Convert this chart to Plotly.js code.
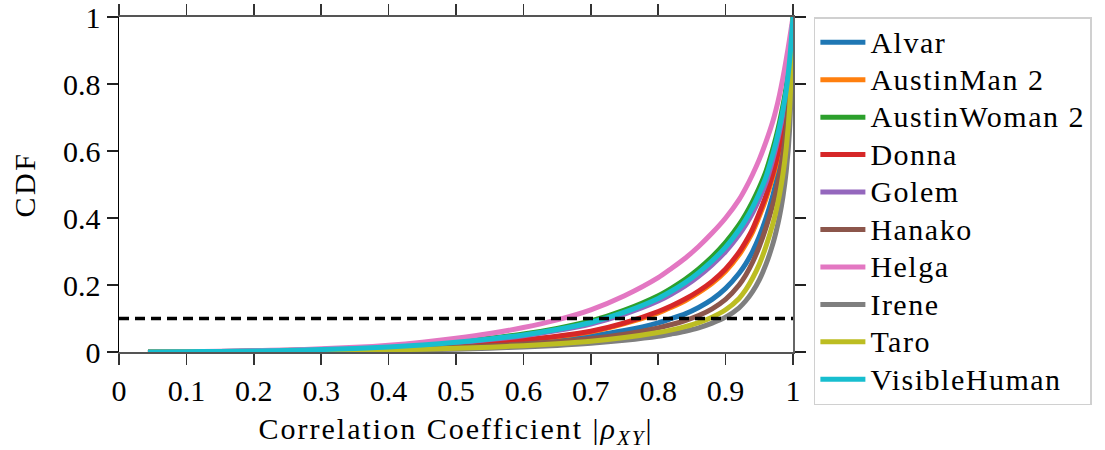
<!DOCTYPE html>
<html>
<head>
<meta charset="utf-8">
<script src="https://cdn.plot.ly/plotly-3.0.1.min.js"></script>
<style>
  html, body { margin: 0; padding: 0; background: #fff; }
  #chart { width: 1105px; height: 450px; }
</style>
</head>
<body>
<div id="chart"></div>
<script>
// |rho_XY| sample points shared by all phantoms
const rho = [0.043, 0.1, 0.15, 0.2, 0.25, 0.3, 0.35, 0.4, 0.45, 0.5, 0.55, 0.6, 0.65, 0.7, 0.75,
             0.8, 0.82, 0.84, 0.86, 0.88, 0.9, 0.92, 0.93, 0.94, 0.95, 0.96, 0.97, 0.975, 0.98, 0.985, 0.99, 0.995, 1];

// Empirical CDF of the correlation coefficient, per phantom
const alvar        = [0, 0.0004, 0.0008, 0.0016, 0.0026, 0.004, 0.006, 0.0088, 0.0124, 0.017, 0.0225, 0.029, 0.037, 0.048, 0.064,
                      0.087, 0.1, 0.114, 0.133, 0.157, 0.19, 0.235, 0.264, 0.3, 0.345, 0.4, 0.467, 0.507, 0.554, 0.612, 0.688, 0.8, 1];
const austinMan2   = [0, 0.00048, 0.00097, 0.0019, 0.0032, 0.0049, 0.0073, 0.0107, 0.015, 0.0204, 0.0272, 0.035, 0.0456, 0.060, 0.0845,
                      0.117, 0.134, 0.153, 0.177, 0.205, 0.241, 0.29, 0.322, 0.358, 0.405, 0.458, 0.522, 0.56, 0.605, 0.658, 0.727, 0.834, 1];
const austinWoman2 = [0, 0.00085, 0.0017, 0.0032, 0.005, 0.0076, 0.011, 0.0158, 0.022, 0.0305, 0.041, 0.0535, 0.0705, 0.0925, 0.125,
                      0.168, 0.191, 0.217, 0.248, 0.284, 0.327, 0.38, 0.412, 0.449, 0.491, 0.54, 0.606, 0.643, 0.686, 0.735, 0.793, 0.877, 1];
const donna        = [0, 0.0005, 0.001, 0.002, 0.0033, 0.005, 0.0075, 0.011, 0.0155, 0.021, 0.028, 0.036, 0.047, 0.062, 0.087,
                      0.121, 0.138, 0.158, 0.182, 0.211, 0.248, 0.298, 0.33, 0.367, 0.415, 0.468, 0.532, 0.57, 0.614, 0.667, 0.735, 0.84, 1];
const golem        = [0, 0.00076, 0.0015, 0.0029, 0.0046, 0.0068, 0.01, 0.0143, 0.020, 0.0275, 0.037, 0.0485, 0.0637, 0.0835, 0.113,
                      0.152, 0.173, 0.197, 0.226, 0.26, 0.3, 0.35, 0.38, 0.415, 0.457, 0.506, 0.574, 0.613, 0.658, 0.709, 0.771, 0.863, 1];
const hanako       = [0, 0.0003, 0.0007, 0.0013, 0.0021, 0.0033, 0.005, 0.0073, 0.0103, 0.014, 0.0185, 0.024, 0.031, 0.040, 0.053,
                      0.072, 0.082, 0.094, 0.109, 0.129, 0.157, 0.2, 0.23, 0.268, 0.315, 0.372, 0.44, 0.482, 0.53, 0.59, 0.668, 0.783, 1];
const helga        = [0, 0.001, 0.0021, 0.0038, 0.0062, 0.0095, 0.014, 0.0205, 0.0295, 0.041, 0.055, 0.073, 0.096, 0.126, 0.168,
                      0.222, 0.25, 0.28, 0.315, 0.355, 0.40, 0.455, 0.49, 0.53, 0.575, 0.628, 0.688, 0.725, 0.768, 0.818, 0.874, 0.935, 1];
const irene        = [0, 0.0002, 0.0004, 0.0008, 0.0013, 0.002, 0.003, 0.0045, 0.0063, 0.0085, 0.0113, 0.015, 0.0197, 0.026, 0.035,
                      0.047, 0.054, 0.062, 0.072, 0.086, 0.104, 0.132, 0.153, 0.18, 0.215, 0.262, 0.322, 0.36, 0.405, 0.462, 0.54, 0.665, 1];
const taro         = [0, 0.0003, 0.0006, 0.001, 0.0017, 0.0027, 0.0041, 0.006, 0.0083, 0.011, 0.0145, 0.019, 0.0248, 0.032, 0.043,
                      0.058, 0.066, 0.076, 0.088, 0.104, 0.126, 0.16, 0.186, 0.22, 0.262, 0.316, 0.382, 0.422, 0.47, 0.53, 0.61, 0.73, 1];
const visibleHuman = [0, 0.0008, 0.0016, 0.003, 0.0048, 0.0072, 0.0105, 0.015, 0.021, 0.029, 0.039, 0.051, 0.067, 0.088, 0.119,
                      0.16, 0.182, 0.207, 0.237, 0.272, 0.313, 0.365, 0.396, 0.432, 0.474, 0.523, 0.59, 0.628, 0.672, 0.722, 0.782, 0.87, 1];

const names  = ["Alvar", "AustinMan 2", "AustinWoman 2", "Donna", "Golem", "Hanako", "Helga", "Irene", "Taro", "VisibleHuman"];
const series = [alvar, austinMan2, austinWoman2, donna, golem, hanako, helga, irene, taro, visibleHuman];
const colors = ["#1f77b4", "#ff7f0e", "#2ca02c", "#d62728", "#9467bd", "#8c564b", "#e377c2", "#7f7f7f", "#bcbd22", "#17becf"];

// 10% reference level
const refX = [0, 1];
const refY = [0.1, 0.1];

const FONT = "'Liberation Serif', 'Times New Roman', serif";
const wide = (s, px, ls) => `<span style="font-size:${px}px;letter-spacing:${ls}px">${s}</span>`;

const traces = series.map((ys, i) => ({
  x: rho, y: ys, name: wide(names[i], 30, 1.5), type: "scatter", mode: "lines",
  line: { color: colors[i], width: 5, shape: "spline", smoothing: 0.8 }
}));
traces.push({
  x: refX, y: refY, type: "scatter", mode: "lines", showlegend: false,
  line: { color: "#000", width: 3.5, dash: "10px,6px" }
});
// right-hand frame line with mirrored ticks
traces.push({ x: [null], y: [null], yaxis: "y2", showlegend: false, hoverinfo: "skip" });

const tickFont = { family: FONT, size: 30, color: "#000" };

const layout = {
  width: 1105, height: 450,
  margin: { l: 119, r: 312, t: 17, b: 98 },
  paper_bgcolor: "#fff", plot_bgcolor: "#fff",
  font: { family: FONT, color: "#000" },
  showlegend: true,
  xaxis: {
    range: [0, 1], dtick: 0.1, tick0: 0,
    showgrid: false, zeroline: false,
    showline: true, linecolor: "#555", linewidth: 2, mirror: "allticks",
    ticks: "outside", ticklen: 11, tickwidth: 1.5, tickcolor: "#333",
    tickfont: tickFont,
    title: { text: wide("Correlation Coefficient |<i>ρ</i><sub><i>XY</i></sub>|", 30, 2), font: { family: FONT, size: 30, color: "#000" }, standoff: 12 }
  },
  yaxis: {
    range: [0, 1], dtick: 0.2, tick0: 0,
    showgrid: false, zeroline: false,
    showline: true, linecolor: "#000", linewidth: 1.5,
    ticks: "outside", ticklen: 11, tickwidth: 1.5, tickcolor: "#222",
    tickfont: tickFont,
    title: { text: wide("CDF", 30, 2.5), font: { family: FONT, size: 30, color: "#000" }, standoff: 18 }
  },
  yaxis2: {
    overlaying: "y", side: "right", range: [0, 1], dtick: 0.2, tick0: 0,
    showgrid: false, zeroline: false, showticklabels: false,
    showline: true, linecolor: "#666", linewidth: 2,
    ticks: "outside", ticklen: 11, tickwidth: 1.5, tickcolor: "#222"
  },
  legend: {
    x: 1.031, xanchor: "left", y: 1.0, yanchor: "top",
    bgcolor: "#fff", bordercolor: "#d0d0d0", borderwidth: 1.5,
    font: { family: FONT, size: 26.5, color: "#000" },
    itemwidth: 45, tracegroupgap: 0, maxheight: 440
  }
};

Plotly.newPlot("chart", traces, layout, { staticPlot: true, displayModeBar: false });
</script>
</body>
</html>
